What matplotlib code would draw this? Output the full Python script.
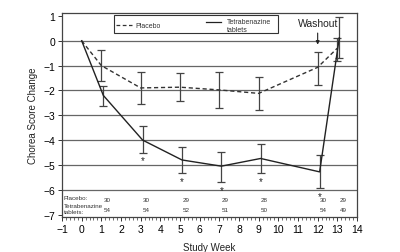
import numpy as np
import matplotlib
matplotlib.use("Agg")
import matplotlib.pyplot as plt
from matplotlib.ticker import MultipleLocator

plt.rcParams['font.family'] = ['Liberation Sans', 'DejaVu Sans']

# study weeks
weeks = [0, 1, 3, 5, 7, 9, 12, 13]

# placebo mean change and error bar ends
placebo = [0, -1.0, -1.9, -1.87, -1.98, -2.12, -1.07, -0.3]
placebo_hi = [0, -0.36, -1.27, -1.3, -1.24, -1.44, -0.46, 0.1]
placebo_lo = [0, -1.62, -2.55, -2.43, -2.71, -2.78, -1.78, -0.8]

# tetrabenazine mean change and error bar ends
tetra = [0, -2.2, -4.0, -4.8, -5.05, -4.74, -5.28, 0.12]
tetra_hi = [0, -1.82, -3.43, -4.26, -4.47, -4.17, -4.62, 0.96]
tetra_lo = [0, -2.63, -4.5, -5.32, -5.7, -5.32, -5.92, -0.7]

# weeks with significant difference
sig_weeks = [3, 5, 7, 9, 12]

# patients per visit
n_weeks = [1, 3, 5, 7, 9, 12, 13]
n_placebo = [30, 30, 29, 29, 28, 30, 29]
n_tetra = [54, 54, 52, 51, 50, 54, 49]

fig = plt.figure(figsize=(4, 2.53), dpi=100)
ax = fig.add_axes([0.155, 0.138, 0.7375, 0.807])

ax.set_xlim(-1, 14)
ax.set_ylim(-7.1, 1.12)

for y in range(-6, 1):
    ax.axhline(y, color="#666666", lw=0.9, zorder=1)

x_p = np.array(weeks, dtype=float)
x_t = x_p + np.where(x_p > 0, 0.1, 0)

p = np.array(placebo)
t = np.array(tetra)
ax.errorbar(x_p[1:], p[1:],
            yerr=[p[1:] - np.array(placebo_lo[1:]), np.array(placebo_hi[1:]) - p[1:]],
            fmt="none", ecolor="#444444", elinewidth=0.9, capsize=3, capthick=0.9, zorder=2)
ax.errorbar(x_t[1:], t[1:],
            yerr=[t[1:] - np.array(tetra_lo[1:]), np.array(tetra_hi[1:]) - t[1:]],
            fmt="none", ecolor="#444444", elinewidth=0.9, capsize=3, capthick=0.9, zorder=2)

ax.plot(x_p, p, color="#333333", ls=(0, (3, 2)), lw=1.0, zorder=3)
ax.plot(x_t, t, color="#222222", ls="-", lw=1.0, zorder=3)

# asterisks under tetrabenazine bars
for w in sig_weeks:
    i = weeks.index(w)
    ax.text(x_t[i], tetra_lo[i] - 0.12, "*", ha="center", va="top", fontsize=7, color="#222222")

# legend box
ax.add_patch(plt.Rectangle((1.65, 0.3), 8.35, 0.75, fill=False, ec="#333333", lw=0.8, zorder=4))
ax.plot([1.75, 2.55], [0.62, 0.62], color="#333333", ls=(0, (3, 2)), lw=0.9)
ax.text(2.75, 0.62, "Placebo", fontsize=5, va="center", color="#333333")
ax.plot([6.3, 7.1], [0.75, 0.75], color="#222222", lw=0.9)
ax.text(7.4, 0.62, "Tetrabenazine\ntablets", fontsize=5, va="center", color="#333333",
        linespacing=1.2)

# washout marker
ax.text(12.0, 0.72, "Washout", fontsize=7.5, ha="center", va="center", color="#222222")
ax.annotate("", xy=(12.0, -0.27), xytext=(12.0, 0.42),
            arrowprops=dict(arrowstyle="-|>", color="#222222", lw=0.8, mutation_scale=5))

# patient counts
ax.text(-0.9, -6.33, "Placebo:", fontsize=4.5, va="center", color="#333333")
ax.text(-0.9, -6.75, "Tetrabenazine\ntablets:", fontsize=4.5, va="center", color="#333333",
        linespacing=1.3)
for w, a, b in zip(n_weeks, n_placebo, n_tetra):
    ax.text(w + 0.3, -6.38, str(a), fontsize=4.5, ha="center", va="center", color="#333333")
    ax.text(w + 0.3, -6.78, str(b), fontsize=4.5, ha="center", va="center", color="#333333")

ax.set_xticks(range(-1, 15))
ax.xaxis.set_minor_locator(MultipleLocator(0.2))
ax.set_yticks(range(-7, 2))
ax.tick_params(axis="both", labelsize=7.5, length=3, width=0.7, color="#333333", pad=2)
ax.tick_params(axis="x", which="minor", length=2, width=0.5, color="#333333")
for s in ax.spines.values():
    s.set_color("#444444")
    s.set_linewidth(0.9)

ax.set_xlabel("Study Week", fontsize=7, color="#222222", labelpad=6)
ax.set_ylabel("Chorea Score Change", fontsize=7, color="#222222", labelpad=4)

fig.savefig("out.png", dpi=100)
